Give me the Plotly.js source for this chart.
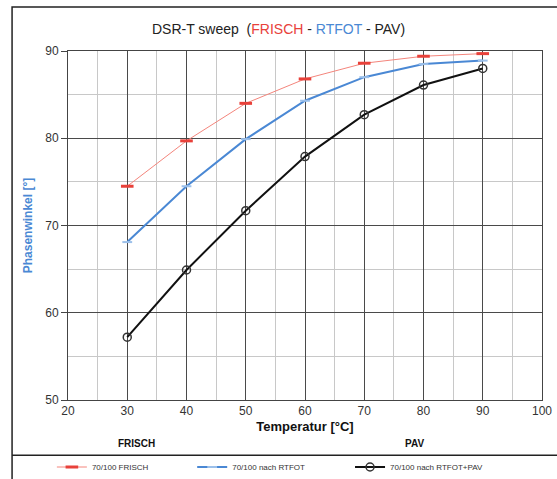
<!DOCTYPE html>
<html><head><meta charset="utf-8">
<script src="https://cdn.plot.ly/plotly-3.0.1.min.js"></script>
<style>body{margin:0;background:#fff}#c{width:557px;height:479px}</style>
</head><body><div id="c"></div>
<script>
const temps = [30, 40, 50, 60, 70, 80, 90];
const frisch = [74.5, 79.7, 84.0, 86.8, 88.6, 89.4, 89.7];
const rtfot = [68.1, 74.5, 79.9, 84.3, 87.0, 88.5, 88.9];
const pav = [57.2, 64.9, 71.7, 77.9, 82.7, 86.1, 88.0];
const seriesNames = ['70/100 FRISCH', '70/100 nach RTFOT', '70/100 nach RTFOT+PAV'];

const font = 'Liberation Sans, Arial, sans-serif';
const traces = [
  {x: temps, y: frisch, name: seriesNames[0], mode: 'lines+markers', legend: 'legend',
   line: {color: '#f4857c', width: 1},
   marker: {symbol: 'line-ew', size: 9, color: '#e8413a', line: {color: '#e8413a', width: 3}}},
  {x: temps, y: rtfot, name: seriesNames[1], mode: 'lines+markers', legend: 'legend2',
   line: {color: '#4a88d4', width: 2},
   marker: {symbol: 'line-ew', size: 7, color: '#9cc0ea', line: {color: '#9cc0ea', width: 2}}},
  {x: temps, y: pav, name: seriesNames[2], mode: 'lines+markers', legend: 'legend3',
   line: {color: '#111', width: 2},
   marker: {symbol: 'circle-open', size: 8, color: '#333', line: {color: '#333', width: 1.5}}}
];

const legBase = {orientation: 'h', xanchor: 'left', y: -0.192, yanchor: 'middle',
  font: {size: 8, color: '#333'}, itemwidth: 30, bgcolor: 'rgba(0,0,0,0)'};

const layout = {
  width: 557, height: 479,
  margin: {l: 68, r: 15, t: 51, b: 79, autoexpand: false},
  paper_bgcolor: '#fff', plot_bgcolor: '#fff',
  font: {family: font, size: 11, color: '#333'},
  showlegend: true,
  title: {text: 'DSR-T sweep  (<span style="color:#e8413a">FRISCH</span> - <span style="color:#4a88d4">RTFOT</span> - PAV)',
    font: {family: font, size: 14, color: '#222'}, x: 0.5, xanchor: 'center', y: 0.94, yanchor: 'middle'},
  xaxis: {range: [20, 100], dtick: 10, tick0: 20, showgrid: true, gridcolor: '#4a4a4a', gridwidth: 1,
    minor: {dtick: 5, showgrid: true, gridcolor: '#c8c8c8', gridwidth: 1},
    showline: true, mirror: true, linecolor: '#444', linewidth: 1, zeroline: false,
    ticks: '', tickfont: {size: 12, color: '#333'},
    title: {text: '<b>Temperatur [°C]</b>', font: {size: 13, color: '#111'}, standoff: 4}},
  yaxis: {range: [50, 90], dtick: 10, showgrid: true, gridcolor: '#4a4a4a', gridwidth: 1,
    minor: {dtick: 5, showgrid: true, gridcolor: '#c8c8c8', gridwidth: 1},
    showline: true, mirror: true, linecolor: '#444', linewidth: 1, zeroline: false,
    ticks: 'outside', ticklen: 6, tickcolor: '#444', tickfont: {size: 12, color: '#333'},
    title: {text: '<b>Phasenwinkel [°]</b>', font: {size: 12, color: '#4a88d4'}, standoff: 10}},
  legend: Object.assign({}, legBase, {x: -0.034}),
  legend2: Object.assign({}, legBase, {x: 0.262}),
  legend3: Object.assign({}, legBase, {x: 0.595}),
  annotations: [
    {xref: 'x', yref: 'paper', x: 31.5, y: -0.125, text: '<b>FRISCH</b>', showarrow: false,
     font: {size: 10, color: '#111'}, yanchor: 'middle'},
    {xref: 'x', yref: 'paper', x: 78.5, y: -0.125, text: '<b>PAV</b>', showarrow: false,
     font: {size: 10, color: '#111'}, yanchor: 'middle'}
  ],
  shapes: [
    {type: 'rect', xref: 'paper', yref: 'paper', x0: -0.118, x1: 1.05, y0: -0.3, y1: 1.126,
     line: {color: '#222', width: 1.5}},
    {type: 'line', xref: 'paper', yref: 'paper', x0: -0.118, x1: 1.05, y0: -0.158, y1: -0.158,
     line: {color: '#222', width: 1.5}}
  ]
};
Plotly.newPlot('c', traces, layout, {displayModeBar: false});
</script></body></html>
